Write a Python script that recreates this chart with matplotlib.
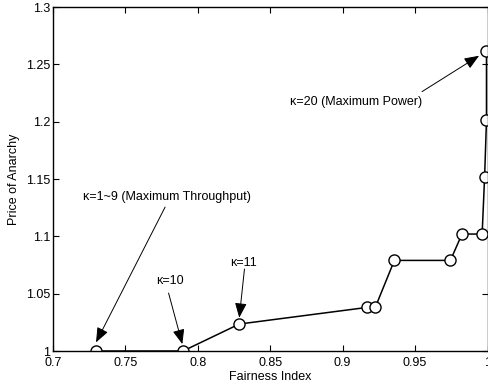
import numpy as np
import matplotlib.pyplot as plt

plt.rcParams['font.family'] = ['Liberation Sans', 'DejaVu Sans']

# fairness index vs price of anarchy
fairness = [0.7295, 0.7898, 0.8286, 0.9168, 0.9225, 0.9357, 0.9744, 0.9824, 0.9963, 0.998, 0.9993, 0.9993]
poa = [1.0, 1.0, 1.0235, 1.038, 1.038, 1.079, 1.079, 1.102, 1.102, 1.1517, 1.2014, 1.2615]

xticks = [0.7, 0.75, 0.8, 0.85, 0.9, 0.95, 1.0]
xtick_labels = ['0.7', '0.75', '0.8', '0.85', '0.9', '0.95', '1']
yticks = [1.0, 1.05, 1.1, 1.15, 1.2, 1.25, 1.3]
ytick_labels = ['1', '1.05', '1.1', '1.15', '1.2', '1.25', '1.3']

# annotations: text, text position, arrow tail, arrow head
notes = [
    ('\u03ba=1~9 (Maximum Throughput)', (0.7784, 1.1343), (0.7774, 1.1255), (0.7297, 1.0075)),
    ('\u03ba=10', (0.7808, 1.061), (0.7798, 1.0505), (0.7893, 1.006)),
    ('\u03ba=11', (0.8312, 1.0765), (0.8322, 1.0715), (0.8286, 1.029)),
    ('\u03ba=20 (Maximum Power)', (0.9095, 1.2173), (0.9548, 1.2262), (0.9942, 1.2575)),
]

fig = plt.figure(figsize=(4.88, 3.88), dpi=100)
ax = fig.add_axes([53 / 488, 1 - 351 / 388, 434.5 / 488, 344 / 388])

ax.plot(fairness, poa, '-o', color='black', lw=1.1, ms=8,
        markerfacecolor='white', markeredgecolor='black', markeredgewidth=1.0)

for txt, tpos, tail, head in notes:
    ax.text(tpos[0], tpos[1], txt, fontsize=9, ha='center', va='center')
    ax.annotate('', xy=head, xytext=tail,
                arrowprops=dict(arrowstyle='-|>,head_length=0.75,head_width=0.3',
                                color='black', lw=0.7, shrinkA=0, shrinkB=0,
                                mutation_scale=12))

ax.set_xlim(0.7, 1.0)
ax.set_ylim(1.0, 1.3)
ax.set_xticks(xticks)
ax.set_xticklabels(xtick_labels)
ax.set_yticks(yticks)
ax.set_yticklabels(ytick_labels)
ax.tick_params(direction='in', top=True, right=True, length=4, width=0.8,
               labelsize=9)
ax.tick_params(axis='x', pad=4)
ax.tick_params(axis='y', pad=2)
for s in ax.spines.values():
    s.set_linewidth(1.0)

ax.set_xlabel('Fairness Index', fontsize=9, labelpad=2)
ax.set_ylabel('Price of Anarchy', fontsize=9, labelpad=4)

fig.savefig('out.png', dpi=100)
